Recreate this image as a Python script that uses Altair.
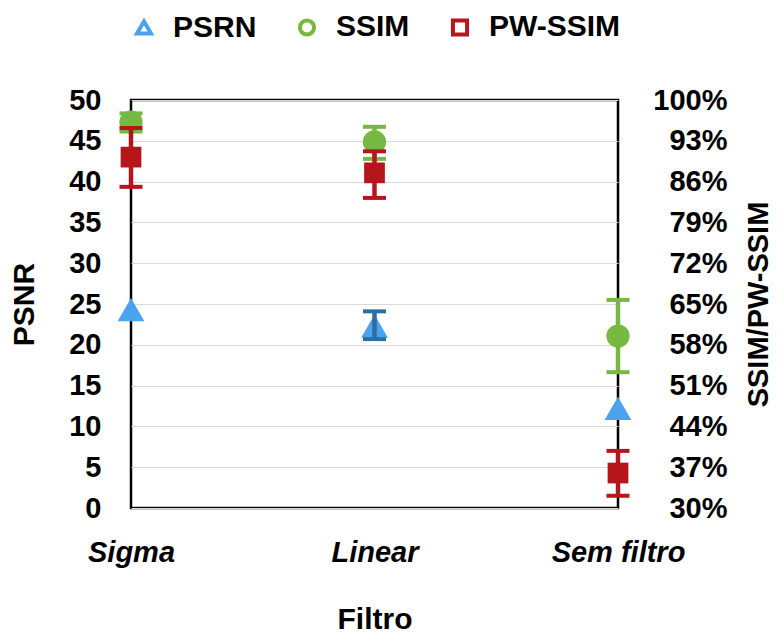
import altair as alt
import pandas as pd

# ---------------- data ----------------
categories = ["Sigma", "Linear", "Sem filtro"]

psnr = [24.3, 22.3, 12.2]
psnr_lo = [None, 20.7, None]
psnr_hi = [None, 24.1, None]

ssim = [96.2, 92.8, 59.5]
ssim_lo = [94.6, 89.9, 53.3]
ssim_hi = [97.7, 95.4, 65.7]

pwssim = [90.2, 87.5, 36.0]
pwssim_lo = [85.1, 83.2, 32.1]
pwssim_hi = [95.2, 91.2, 39.8]

series_names = ["PSRN", "SSIM", "PW-SSIM"]
series_colors = ["#4ba3ef", "#76b842", "#b5161b"]
errbar_colors = ["#2f6e9e", "#76b842", "#b5161b"]
series_shapes = ["triangle-up", "circle", "square"]
series_sizes = [720, 540, 430]

psnr_ticks = list(range(0, 51, 5))
pct_ticks = [30, 37, 44, 51, 58, 65, 72, 79, 86, 93, 100]

# ---------------- long table ----------------
rows = []
for name, vals, los, his in [
    ("PSRN", psnr, psnr_lo, psnr_hi),
    ("SSIM", ssim, ssim_lo, ssim_hi),
    ("PW-SSIM", pwssim, pwssim_lo, pwssim_hi),
]:
    for c, v, lo, hi in zip(categories, vals, los, his):
        rows.append({"filtro": c, "serie": name, "value": v, "lo": lo, "hi": hi})
df = pd.DataFrame(rows)

FONT = "Liberation Sans"

x_enc = alt.X(
    "filtro:N",
    sort=categories,
    scale=alt.Scale(type="point", padding=0),
    axis=alt.Axis(
        title="Filtro",
        labelAngle=0,
        labelFontStyle="italic",
        labelFontSize=29,
        labelPadding=30,
        domain=False,
        ticks=False,
        grid=False,
        titleFontSize=30,
        titleY=111,
        titleBaseline="middle",
    ),
)

left_axis = alt.Axis(
    title="PSNR",
    values=psnr_ticks,
    grid=True,
    gridColor="#d9d9d9",
    gridWidth=1,
    domain=False,
    ticks=False,
    labelFontSize=29,
    labelPadding=30,
    titleFontSize=30,
    titleX=-107,
    titleY=204,
    titleAngle=270,
    titleAlign="center",
    titleBaseline="middle",
)
right_axis = alt.Axis(
    title="SSIM/PW-SSIM",
    orient="right",
    values=pct_ticks,
    labelExpr="datum.value + '%'",
    grid=False,
    domain=False,
    ticks=False,
    labelAlign="right",
    labelFontSize=29,
    labelPadding=109,
    titleFontSize=29,
    titleX=140,
    titleY=204,
    titleAngle=270,
    titleAlign="center",
    titleBaseline="middle",
)
left_scale = alt.Scale(domain=[0, 50], nice=False, zero=False)
right_scale = alt.Scale(domain=[30, 100], nice=False, zero=False)

legend = alt.Legend(
    title=None,
    orient="none",
    legendX=-2,
    legendY=-88,
    direction="horizontal",
    labelFont=FONT,
    labelFontSize=30,
    labelFontWeight="bold",
    labelColor="black",
    symbolSize=200,
    symbolStrokeWidth=4,
    symbolOpacity=1,
    labelOffset=14,
    columnPadding=34,
    padding=0,
)
color_scale = alt.Scale(domain=series_names, range=series_colors)
shape_scale = alt.Scale(domain=series_names, range=series_shapes)


def legend_layer(names, axis, scale):
    # open markers (hidden under the filled ones) that produce the legend
    return (
        alt.Chart(df)
        .transform_filter(alt.FieldOneOfPredicate(field="serie", oneOf=names))
        .mark_point(filled=False, size=60, strokeWidth=2, opacity=1)
        .encode(
            x=x_enc,
            y=alt.Y("value:Q", scale=scale, axis=axis),
            color=alt.Color("serie:N", scale=color_scale, legend=legend),
            shape=alt.Shape("serie:N", scale=shape_scale, legend=legend),
        )
    )


def series_layers(idx, axis, scale):
    name = series_names[idx]
    base = alt.Chart(df).transform_filter(alt.datum.serie == name)
    errbase = base.transform_filter("isValid(datum.lo)")
    ecol = alt.value(errbar_colors[idx])
    pts = base.mark_point(
        filled=True,
        opacity=1,
        size=series_sizes[idx],
        shape=series_shapes[idx],
        color=series_colors[idx],
    ).encode(
        x=x_enc,
        y=alt.Y("value:Q", scale=scale, axis=axis),
    )
    rule = errbase.mark_rule(strokeWidth=4.5, opacity=1).encode(
        x=x_enc, y=alt.Y("lo:Q", scale=scale, axis=axis), y2="hi:Q", color=ecol
    )
    cap_lo = errbase.mark_tick(size=23, thickness=4, opacity=1).encode(
        x=x_enc, y=alt.Y("lo:Q", scale=scale, axis=axis), color=ecol
    )
    cap_hi = errbase.mark_tick(size=23, thickness=4, opacity=1).encode(
        x=x_enc, y=alt.Y("hi:Q", scale=scale, axis=axis), color=ecol
    )
    return [pts, rule, cap_lo, cap_hi]


left_group = alt.layer(
    legend_layer(["PSRN"], left_axis, left_scale),
    *series_layers(0, left_axis, left_scale),
)
right_group = alt.layer(
    legend_layer(["SSIM", "PW-SSIM"], right_axis, right_scale),
    *series_layers(1, right_axis, right_scale),
    *series_layers(2, right_axis, right_scale),
)

chart = (
    alt.layer(left_group, right_group)
    .resolve_scale(y="independent")
    .properties(
        width=487,
        height=408,
        autosize=alt.AutoSizeParams(type="none"),
        padding={"left": 123, "top": 92, "right": 157, "bottom": 125},
        background="white",
    )
    .configure_view(stroke="black", strokeWidth=2.5)
    .configure_axis(
        labelFont=FONT,
        titleFont=FONT,
        labelColor="black",
        titleColor="black",
        labelFontWeight="bold",
        titleFontWeight="bold",
    )
)

chart.save("out.html", embed_options={"renderer": "svg", "actions": False})
